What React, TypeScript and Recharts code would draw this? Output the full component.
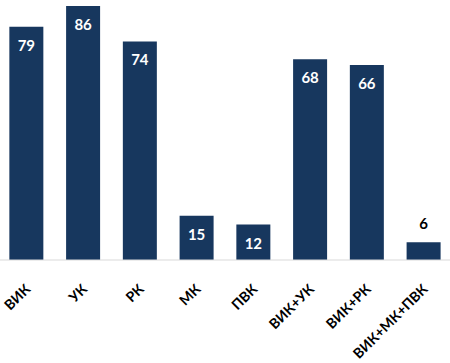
import { BarChart, Bar, XAxis, YAxis, LabelList } from 'recharts';

// categories and counts
const categories = ['ВИК', 'УК', 'РК', 'МК', 'ПВК', 'ВИК+УК', 'ВИК+РК', 'ВИК+МК+ПВК'];
const counts = [79, 86, 74, 15, 12, 68, 66, 6];

const data = categories.map((name, i) => ({ name, value: counts[i] }));

const FONT = 'Lato, "Open Sans", sans-serif';

const RotatedTick = (props: any) => {
  const { x, y, payload } = props;
  const ax = x + 5;
  const ay = y + 22;
  return (
    <text
      x={ax}
      y={ay}
      transform={`rotate(-45, ${ax}, ${ay})`}
      textAnchor="end"
      fontFamily={FONT}
      fontWeight={700}
      fontSize={14}
      fill="#000"
    >
      {payload.value}
    </text>
  );
};

const ValueLabel = (props: any) => {
  const { x, y, width, value } = props;
  const inside = value >= 10;
  return (
    <text
      x={x + width / 2}
      y={inside ? y + 24 : y - 13}
      textAnchor="middle"
      fontFamily={FONT}
      fontWeight={700}
      fontSize={15}
      fill={inside ? '#fff' : '#000'}
    >
      {value}
    </text>
  );
};

export default function App() {
  return (
    <div style={{ position: 'absolute', left: 0, top: 0, background: '#fff' }}>
      <BarChart
        width={450}
        height={363}
        data={data}
        margin={{ top: 6, right: -2, bottom: 0, left: -2 }}
        barCategoryGap="20%"
      >
        <XAxis
          dataKey="name"
          interval={0}
          height={103}
          tickLine={false}
          axisLine={{ stroke: '#d9d9d9' }}
          tick={<RotatedTick />}
        />
        <YAxis hide domain={[0, 86]} />
        <Bar dataKey="value" fill="#17375E" isAnimationActive={false}>
          <LabelList dataKey="value" content={<ValueLabel />} />
        </Bar>
      </BarChart>
    </div>
  );
}
